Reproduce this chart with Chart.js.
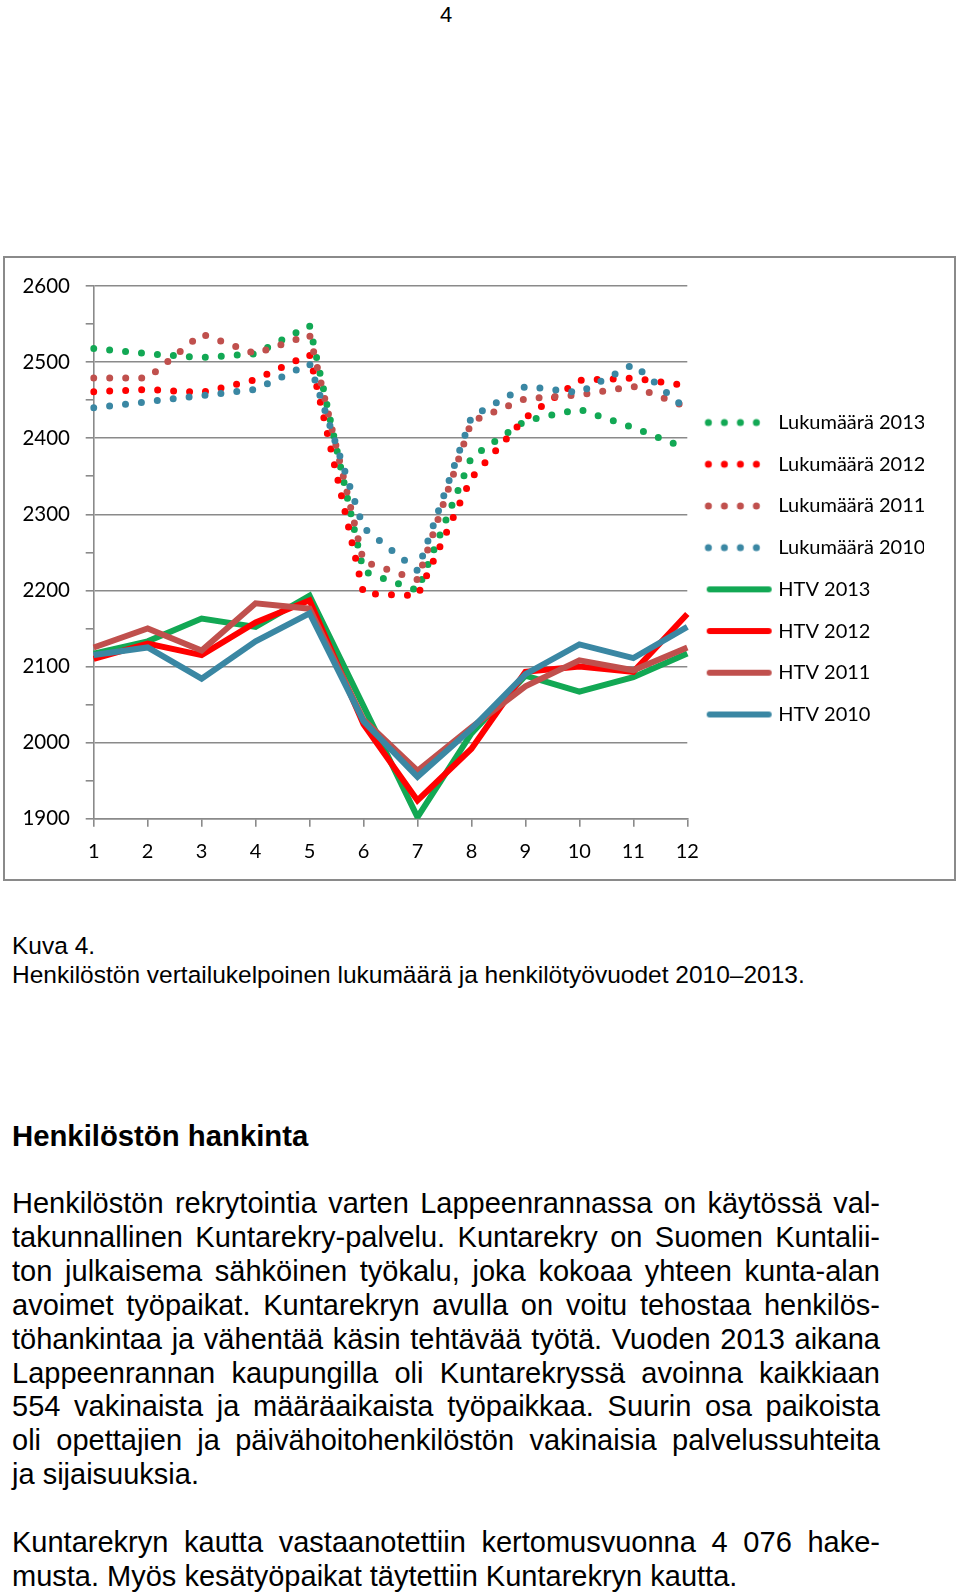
<!DOCTYPE html>
<html>
<head>
<meta charset="utf-8">
<script src="https://cdn.jsdelivr.net/npm/chart.js@4.4.1/dist/chart.umd.min.js"></script>
<style>
  html, body { margin: 0; padding: 0; background: #fff; }
  body { position: relative; width: 960px; height: 1595px; overflow: hidden;
         font-family: "Liberation Sans", Arial, sans-serif; color: #000; }
  .abs { position: absolute; }
  #pageno { left: 426px; top: 0px; width: 40px; text-align: center; font-size: 22px; line-height: 30px; }
  #box { left: 3px; top: 256px; width: 953px; height: 625px; border: 2px solid #8a8a8a; box-sizing: border-box; }
  #chart { left: 5px; top: 258px; }
  .caption { left: 12px; font-size: 24.5px; line-height: 28.5px; white-space: nowrap; }
  .heading { left: 12px; font-size: 29.3px; font-weight: bold; line-height: 34px; }
  .para { left: 12px; width: 868px; font-size: 29px; line-height: 33.9px; }
  .para div { text-align: justify; text-align-last: justify; }
  .para div.last { text-align: left; text-align-last: left; }
</style>
</head>
<body>
<div id="pageno" class="abs">4</div>
<div id="box" class="abs"></div>
<canvas id="chart" class="abs" width="949" height="621"></canvas>

<div class="abs caption" style="top:932px">Kuva 4.<br>Henkilöstön vertailukelpoinen lukumäärä ja henkilötyövuodet 2010–2013.</div>

<div class="abs heading" style="top:1119px">Henkilöstön hankinta</div>

<div class="abs para" style="top:1187px">
  <div>Henkilöstön rekrytointia varten Lappeenrannassa on käytössä val-</div>
  <div>takunnallinen Kuntarekry-palvelu. Kuntarekry on Suomen Kuntalii-</div>
  <div>ton julkaisema sähköinen työkalu, joka kokoaa yhteen kunta-alan</div>
  <div>avoimet työpaikat. Kuntarekryn avulla on voitu tehostaa henkilös-</div>
  <div>töhankintaa ja vähentää käsin tehtävää työtä. Vuoden 2013 aikana</div>
  <div>Lappeenrannan kaupungilla oli Kuntarekryssä avoinna kaikkiaan</div>
  <div>554 vakinaista ja määräaikaista työpaikkaa. Suurin osa paikoista</div>
  <div>oli opettajien ja päivähoitohenkilöstön vakinaisia palvelussuhteita</div>
  <div class="last">ja sijaisuuksia.</div>
</div>

<div class="abs para" style="top:1526px">
  <div>Kuntarekryn kautta vastaanotettiin kertomusvuonna 4 076 hake-</div>
  <div class="last">musta. Myös kesätyöpaikat täytettiin Kuntarekryn kautta.</div>
</div>

<script>
// months on the x axis
const months = ['1', '2', '3', '4', '5', '6', '7', '8', '9', '10', '11', '12'];
// labelled y ticks (minor ticks every 50 are unlabelled)
const yLabels = [1900, 2000, 2100, 2200, 2300, 2400, 2500, 2600];

// Lukumäärä (headcount), dotted lines
const count2013 = [2518, 2511, 2506, 2511, 2548, 2225, 2200, 2375, 2423, 2438, 2414, 2386];
const count2012 = [2461, 2464, 2460, 2477, 2510, 2196, 2193, 2348, 2427, 2476, 2479, 2469];
const count2011 = [2479, 2479, 2537, 2511, 2536, 2238, 2214, 2422, 2452, 2457, 2468, 2441];
const count2010 = [2440, 2448, 2456, 2464, 2498, 2282, 2226, 2428, 2468, 2460, 2497, 2437];

// HTV (person-years), solid lines
const htv2013 = [2117, 2133, 2163, 2152, 2193, 2048, 1902, 2012, 2088, 2067, 2086, 2117];
const htv2012 = [2110, 2130, 2115, 2158, 2187, 2024, 1924, 1992, 2093, 2100, 2093, 2169];
const htv2011 = [2125, 2150, 2121, 2183, 2176, 2030, 1963, 2020, 2074, 2108, 2095, 2125];
const htv2010 = [2115, 2125, 2084, 2133, 2170, 2028, 1955, 2018, 2090, 2129, 2111, 2152];

const GREEN = '#12a854';
const RED = '#ff0000';
const ROSE = '#c0504d';
const TEAL = '#3a87a3';
const GRID = '#8a8a8a';
const FONT = 'Lato, "Open Sans", sans-serif';

function legendIcon(color, dotted) {
  const c = document.createElement('canvas');
  c.width = 80;
  c.height = 12;
  const g = c.getContext('2d');
  g.fillStyle = color;
  g.strokeStyle = color;
  if (dotted) {
    for (let i = 0; i < 4; i++) {
      g.beginPath();
      g.arc(9.7 + 16 * i, 6, 3.5, 0, Math.PI * 2);
      g.fill();
    }
  } else {
    g.lineWidth = 6;
    g.lineCap = 'round';
    g.beginPath();
    g.moveTo(11, 6);
    g.lineTo(70, 6);
    g.stroke();
  }
  return c;
}

const dotted = (label, data, color) => ({
  label, data,
  borderColor: color, backgroundColor: color,
  borderWidth: 7, borderDash: [0, 16], borderCapStyle: 'round',
  pointRadius: 0, tension: 0, fill: false
});
const solid = (label, data, color) => ({
  label, data,
  borderColor: color, backgroundColor: color,
  borderWidth: 6, borderJoinStyle: 'miter',
  pointRadius: 0, tension: 0, fill: false
});

const datasets = [
  dotted('Lukumäärä 2013', count2013, GREEN),
  dotted('Lukumäärä 2012', count2012, RED),
  dotted('Lukumäärä 2011', count2011, ROSE),
  dotted('Lukumäärä 2010', count2010, TEAL),
  solid('HTV 2013', htv2013, GREEN),
  solid('HTV 2012', htv2012, RED),
  solid('HTV 2011', htv2011, ROSE),
  solid('HTV 2010', htv2010, TEAL)
];
// later series are drawn on top, as in the original
datasets.forEach((d, i) => { d.order = datasets.length - i; });

const icons = datasets.map((d, i) => legendIcon(d.borderColor, i < 4));

new Chart(document.getElementById('chart').getContext('2d'), {
  type: 'line',
  data: { labels: months, datasets },
  options: {
    responsive: false,
    animation: false,
    layout: { padding: { left: 0, right: 30, top: 0, bottom: 0 } },
    scales: {
      x: {
        offset: false,
        grid: { drawOnChartArea: false, drawTicks: true, tickLength: 8, color: GRID, lineWidth: 1.6 },
        border: { display: true, color: GRID, width: 1.6 },
        ticks: { color: '#000', font: { family: FONT, size: 20 }, padding: 13, autoSkip: false, maxRotation: 0 },
        afterFit: s => { s.height = 60.3; }
      },
      y: {
        min: 1900,
        max: 2600,
        grid: {
          color: c => yLabels.includes(c.tick.value) ? GRID : 'rgba(0,0,0,0)',
          tickColor: GRID,
          lineWidth: 1.6,
          tickLength: 8
        },
        border: { display: true, color: GRID, width: 1.6 },
        ticks: {
          stepSize: 50,
          autoSkip: false,
          padding: 15.7,
          color: '#000',
          font: { family: FONT, size: 20.5 },
          callback: v => yLabels.includes(v) ? String(v) : ''
        },
        afterFit: s => { s.width = 88.7; }
      }
    },
    plugins: {
      tooltip: { enabled: false },
      title: { display: true, text: '', fullSize: false, font: { size: 10 }, padding: { top: 14.3, bottom: 0 } },
      legend: {
        position: 'right',
        align: 'center',
        maxWidth: 236.7,
        labels: {
          usePointStyle: true,
          pointStyleWidth: 59.3,
          padding: 21.7,
          color: '#000',
          font: { family: FONT, size: 20 },
          generateLabels: chart => {
            const items = Chart.defaults.plugins.legend.labels.generateLabels(chart);
            items.forEach(it => { it.pointStyle = icons[it.datasetIndex]; });
            return items.sort((a, b) => a.datasetIndex - b.datasetIndex);
          }
        }
      }
    }
  }
});
</script>
</body>
</html>
